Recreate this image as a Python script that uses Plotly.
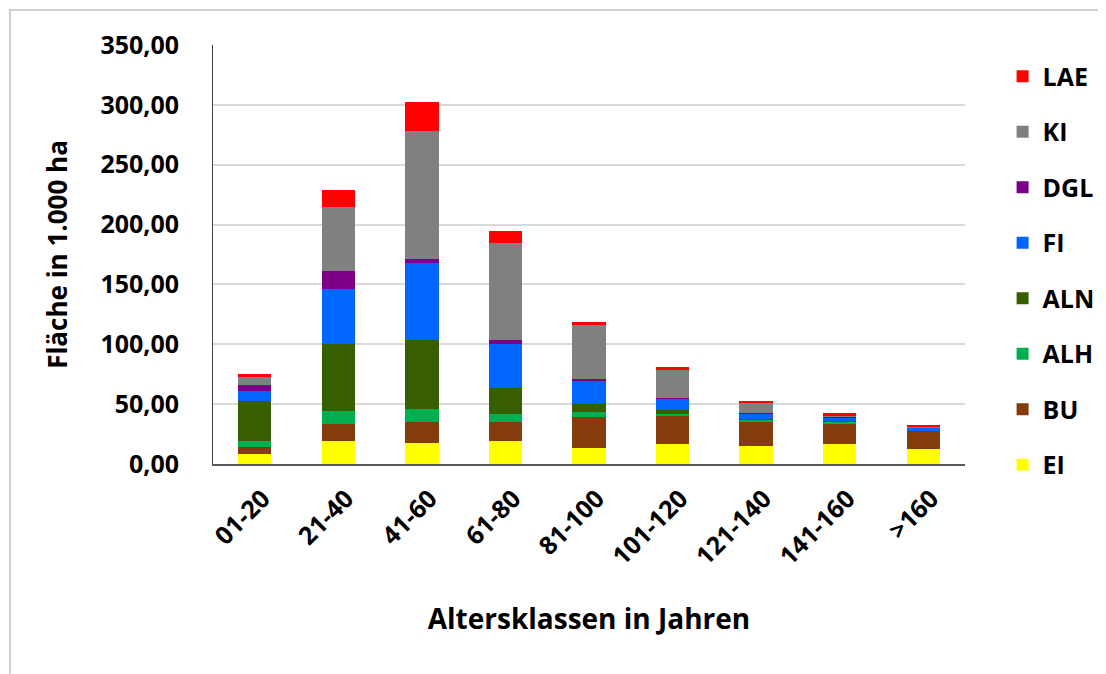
import plotly.graph_objects as go

categories = ["01-20", "21-40", "41-60", "61-80", "81-100", "101-120", "121-140", "141-160", ">160"]

EI  = [8.0, 19.0, 17.5, 19.0, 13.5, 16.5, 15.0, 16.5, 12.5]
BU  = [6.0, 14.5, 17.5, 16.0, 26.0, 24.0, 20.0, 17.0, 14.5]
ALH = [5.0, 11.0, 11.0, 6.5, 4.0, 1.5, 2.0, 2.0, 0.5]
ALN = [33.5, 55.5, 58.0, 22.0, 6.5, 3.0, 0.5, 0.5, 0.3]
FI  = [8.5, 46.0, 63.5, 37.0, 20.0, 10.0, 5.0, 3.0, 2.5]
DGL = [5.0, 15.0, 3.5, 3.0, 1.0, 0.5, 0.5, 0.3, 0.3]
KI  = [7.5, 54.0, 107.5, 81.5, 45.0, 23.0, 8.0, 1.5, 0.5]
LAE = [1.5, 13.5, 23.5, 10.0, 3.0, 2.5, 1.5, 1.5, 1.0]

series_names = ["EI", "BU", "ALH", "ALN", "FI", "DGL", "KI", "LAE"]
series_values = [EI, BU, ALH, ALN, FI, DGL, KI, LAE]
series_colors = ["#FFFF00", "#843C0C", "#00B050", "#375F00", "#0066FF", "#7B0087", "#808080", "#FF0000"]

FONT = "Open Sans"

fig = go.Figure()
n = len(series_names)
for i, (name, vals, col) in enumerate(zip(series_names, series_values, series_colors)):
    fig.add_trace(go.Bar(
        x=categories, y=vals, name=name, legendgroup=name,
        legendrank=n - i,
        marker=dict(color=col, line=dict(width=0)),
    ))

fig.update_layout(
    width=1106, height=674,
    barmode="stack", bargap=0.6,
    separators=",.",
    plot_bgcolor="white", paper_bgcolor="white",
    margin=dict(l=205, r=149, t=37, b=218),
    font=dict(family=FONT, color="black"),
    showlegend=True,
    legend=dict(
        x=1.05, y=0.98, xanchor="left", yanchor="top",
        traceorder="grouped", tracegroupgap=20,
        font=dict(family=FONT, size=25, color="black", weight="bold"),
        itemwidth=30, maxheight=640,
    ),
    xaxis=dict(
        type="category",
        showgrid=False,
        showline=True, linecolor="#595959", linewidth=2,
        ticks="", tickangle=-45,
        ticklabelstandoff=8, ticklabelshift=8,
        tickfont=dict(family=FONT, size=25, color="black", weight="bold"),
        title=dict(text="Altersklassen in Jahren", standoff=39,
                   font=dict(family=FONT, size=28, color="black", weight="bold")),
    ),
    yaxis=dict(
        range=[0, 350], dtick=50, tickformat=".2f",
        showgrid=True, gridcolor="#D9D9D9", gridwidth=2,
        showline=True, linecolor="#404040", linewidth=1,
        zeroline=False,
        ticks="", ticklabelstandoff=28,
        tickfont=dict(family=FONT, size=25, color="black", weight="bold"),
        title=dict(text="Fläche in 1.000 ha", standoff=25,
                   font=dict(family=FONT, size=26, color="black", weight="bold")),
    ),
    shapes=[dict(type="rect", xref="paper", yref="paper",
                 x0=-0.27, x1=1.3, y0=-0.6, y1=1.0835,
                 line=dict(color="#D0D0D0", width=2), fillcolor="rgba(0,0,0,0)", layer="below")],
)

fig.write_html("out.html")
